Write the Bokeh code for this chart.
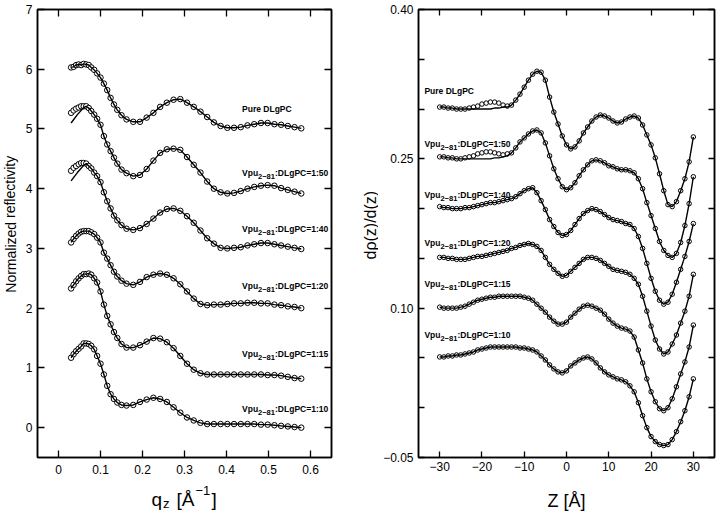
from bokeh.plotting import figure
from bokeh.models import FixedTicker, LinearAxis, Range1d
from bokeh.layouts import row, column
from bokeh.core.properties import value
from bokeh.embed import file_html
from bokeh.resources import INLINE

FONT = "Liberation Sans"

# ---------------- left panel: normalized reflectivity vs q_z ----------------
Q = [0.030, 0.036, 0.042, 0.048, 0.054, 0.060, 0.066, 0.072, 0.078, 0.085, 0.092, 0.100,
     0.108, 0.116, 0.124, 0.132, 0.140, 0.150, 0.162, 0.178, 0.194, 0.210, 0.226, 0.242,
     0.258, 0.274, 0.290, 0.306, 0.322, 0.338, 0.354, 0.370, 0.386, 0.402, 0.418, 0.434,
     0.450, 0.466, 0.482, 0.498, 0.514, 0.530, 0.546, 0.562, 0.578]

R_PURE = [6.03, 6.04, 6.07, 6.08, 6.07, 6.09, 6.08, 6.07, 6.03, 5.99, 5.93, 5.86,
          5.76, 5.65, 5.52, 5.41, 5.32, 5.23, 5.16, 5.12, 5.12, 5.19, 5.27, 5.37,
          5.44, 5.49, 5.50, 5.44, 5.37, 5.29, 5.20, 5.11, 5.05, 5.02, 5.02, 5.03,
          5.06, 5.08, 5.10, 5.10, 5.08, 5.07, 5.05, 5.03, 5.01]
R_150 = [5.27, 5.31, 5.34, 5.36, 5.38, 5.38, 5.38, 5.35, 5.30, 5.24, 5.17, 5.07,
         4.88, 4.74, 4.63, 4.52, 4.42, 4.32, 4.26, 4.21, 4.23, 4.33, 4.47, 4.60,
         4.66, 4.67, 4.65, 4.53, 4.40, 4.27, 4.12, 4.00, 3.94, 3.92, 3.93, 3.96,
         4.00, 4.03, 4.05, 4.06, 4.05, 4.01, 3.98, 3.95, 3.92]
R_140 = [4.30, 4.35, 4.38, 4.41, 4.43, 4.43, 4.42, 4.38, 4.34, 4.27, 4.21, 4.11,
         3.94, 3.79, 3.67, 3.55, 3.47, 3.39, 3.33, 3.31, 3.34, 3.41, 3.50, 3.60,
         3.66, 3.67, 3.63, 3.54, 3.43, 3.30, 3.17, 3.08, 3.01, 3.00, 3.01, 3.02,
         3.05, 3.07, 3.09, 3.09, 3.07, 3.05, 3.03, 3.01, 2.99]
R_120 = [3.10, 3.16, 3.21, 3.25, 3.28, 3.29, 3.29, 3.29, 3.27, 3.24, 3.18, 3.10,
         2.93, 2.83, 2.72, 2.61, 2.53, 2.46, 2.41, 2.39, 2.44, 2.52, 2.56, 2.58,
         2.56, 2.50, 2.40, 2.28, 2.16, 2.07, 2.05, 2.06, 2.06, 2.07, 2.08, 2.08,
         2.09, 2.09, 2.08, 2.08, 2.06, 2.05, 2.03, 2.02, 2.00]
R_115 = [2.33, 2.39, 2.45, 2.50, 2.54, 2.57, 2.57, 2.58, 2.56, 2.50, 2.43, 2.28,
         2.06, 1.87, 1.73, 1.60, 1.50, 1.40, 1.34, 1.34, 1.38, 1.44, 1.50, 1.49,
         1.43, 1.33, 1.20, 1.07, 0.97, 0.91, 0.89, 0.89, 0.89, 0.89, 0.89, 0.89,
         0.89, 0.89, 0.89, 0.88, 0.88, 0.87, 0.85, 0.83, 0.82]
R_110 = [1.17, 1.23, 1.28, 1.32, 1.36, 1.41, 1.41, 1.40, 1.37, 1.31, 1.20, 1.07,
         0.89, 0.70, 0.56, 0.48, 0.42, 0.38, 0.37, 0.38, 0.43, 0.47, 0.50, 0.48,
         0.43, 0.34, 0.25, 0.17, 0.12, 0.08, 0.06, 0.06, 0.06, 0.06, 0.06, 0.06,
         0.06, 0.06, 0.05, 0.05, 0.04, 0.03, 0.02, 0.01, 0.00]

# fitted curves deviate from the data at the lowest q for 1:50 and 1:40
FIT_LOW_Q = [0.030, 0.045, 0.060]
FIT_LOW_150 = [5.10, 5.24, 5.36]
FIT_LOW_140 = [4.13, 4.27, 4.39]
FIT_JOIN = 6  # fitted curve follows the data from Q[6] on

LEFT_CURVES = [R_PURE, R_150, R_140, R_120, R_115, R_110]
LEFT_FIT_LOW = [None, FIT_LOW_150, FIT_LOW_140, None, None, None]
LEFT_LABEL_Q = 0.437
LEFT_LABEL_R = [5.38, 4.32, 3.37, 2.42, 1.28, 0.355]

# ---------------- right panel: d rho / dz vs Z ----------------
Z = [-30, -29, -28, -27, -26, -25, -24, -23, -22, -21, -20, -19, -18, -17, -16, -15,
     -14, -13, -12, -11, -10, -9, -8, -7, -6, -5, -4, -3, -2, -1, 0, 1, 2, 3, 4, 5,
     6, 7, 8, 9, 10, 11, 12, 13, 14, 15, 16, 17, 18, 19, 20, 21, 22, 23, 24, 25, 26,
     27, 28, 29, 30]

D_PURE = [0.302, 0.302, 0.301, 0.301, 0.300, 0.300, 0.300, 0.301, 0.302, 0.303, 0.305,
          0.306, 0.307, 0.307, 0.306, 0.304, 0.303, 0.304, 0.309, 0.315, 0.322, 0.329,
          0.335, 0.338, 0.337, 0.329, 0.312, 0.297, 0.285, 0.273, 0.264, 0.260, 0.262,
          0.268, 0.276, 0.282, 0.288, 0.292, 0.294, 0.293, 0.291, 0.288, 0.286, 0.287,
          0.290, 0.292, 0.293, 0.291, 0.284, 0.274, 0.264, 0.251, 0.235, 0.218, 0.204,
          0.202, 0.207, 0.218, 0.230, 0.247, 0.272]
D_150 = [0.252, 0.252, 0.251, 0.251, 0.250, 0.250, 0.251, 0.252, 0.253, 0.255, 0.256,
         0.257, 0.257, 0.256, 0.255, 0.254, 0.255, 0.256, 0.261, 0.267, 0.271, 0.275,
         0.278, 0.279, 0.276, 0.266, 0.253, 0.240, 0.230, 0.222, 0.219, 0.221, 0.226,
         0.233, 0.239, 0.244, 0.248, 0.249, 0.248, 0.246, 0.243, 0.242, 0.240, 0.239,
         0.239, 0.238, 0.236, 0.230, 0.220, 0.206, 0.193, 0.180, 0.167, 0.158, 0.153,
         0.151, 0.155, 0.166, 0.183, 0.205, 0.232]
D_140 = [0.202, 0.201, 0.201, 0.200, 0.200, 0.200, 0.201, 0.201, 0.202, 0.203, 0.204,
         0.205, 0.206, 0.206, 0.207, 0.208, 0.209, 0.210, 0.212, 0.215, 0.218, 0.220,
         0.221, 0.216, 0.208, 0.199, 0.189, 0.182, 0.176, 0.173, 0.174, 0.178, 0.184,
         0.190, 0.195, 0.198, 0.200, 0.199, 0.197, 0.194, 0.191, 0.189, 0.188, 0.187,
         0.185, 0.184, 0.180, 0.172, 0.160, 0.145, 0.130, 0.117, 0.108, 0.104, 0.106,
         0.114, 0.126, 0.139, 0.152, 0.167, 0.185]
D_120 = [0.151, 0.151, 0.150, 0.150, 0.149, 0.149, 0.149, 0.150, 0.151, 0.152, 0.152,
         0.153, 0.154, 0.155, 0.156, 0.157, 0.158, 0.160, 0.161, 0.163, 0.164, 0.165,
         0.164, 0.162, 0.158, 0.151, 0.144, 0.139, 0.135, 0.132, 0.133, 0.137, 0.141,
         0.145, 0.149, 0.151, 0.151, 0.150, 0.148, 0.145, 0.142, 0.139, 0.138, 0.137,
         0.136, 0.134, 0.130, 0.124, 0.112, 0.097, 0.082, 0.068, 0.059, 0.054, 0.056,
         0.064, 0.073, 0.085, 0.097, 0.112, 0.134]
D_115 = [0.101, 0.100, 0.100, 0.100, 0.100, 0.101, 0.102, 0.104, 0.106, 0.108, 0.109,
         0.110, 0.111, 0.111, 0.112, 0.112, 0.112, 0.112, 0.112, 0.112, 0.111, 0.110,
         0.108, 0.104, 0.100, 0.096, 0.091, 0.087, 0.084, 0.084, 0.086, 0.091, 0.095,
         0.099, 0.102, 0.103, 0.102, 0.100, 0.098, 0.094, 0.089, 0.085, 0.082, 0.080,
         0.079, 0.077, 0.071, 0.058, 0.045, 0.029, 0.016, 0.006, -0.001, -0.003, 0.000,
         0.009, 0.021, 0.034, 0.046, 0.061, 0.083]
D_110 = [0.051, 0.051, 0.052, 0.052, 0.053, 0.053, 0.054, 0.055, 0.056, 0.058, 0.059,
         0.060, 0.061, 0.061, 0.061, 0.061, 0.061, 0.061, 0.061, 0.060, 0.060, 0.059,
         0.058, 0.056, 0.052, 0.048, 0.043, 0.039, 0.036, 0.035, 0.037, 0.042, 0.045,
         0.048, 0.050, 0.051, 0.049, 0.045, 0.040, 0.036, 0.033, 0.031, 0.029, 0.028,
         0.026, 0.022, 0.016, 0.005, -0.008, -0.020, -0.029, -0.034, -0.037, -0.038,
         -0.037, -0.032, -0.024, -0.014, -0.003, 0.011, 0.029]

# fitted curves run below the data bump for Z = -30 .. -14 (Pure, 1:50)
FIT_LOW_PURE = [0.302, 0.302, 0.301, 0.301, 0.300, 0.300, 0.300, 0.300, 0.300, 0.300,
                0.300, 0.300, 0.300, 0.301, 0.301, 0.302, 0.302]
FIT_LOW_D150 = [0.252, 0.252, 0.251, 0.251, 0.250, 0.250, 0.250, 0.250, 0.250, 0.250,
                0.250, 0.250, 0.250, 0.251, 0.251, 0.252, 0.253]

RIGHT_CURVES = [D_PURE, D_150, D_140, D_120, D_115, D_110]
RIGHT_FIT_LOW = [FIT_LOW_PURE, FIT_LOW_D150, None, None, None, None]
RIGHT_LABEL_Z = -33.6
RIGHT_LABEL_V = [0.3215, 0.268, 0.217, 0.168, 0.1275, 0.076]

RATIOS = ["1:50", "1:40", "1:20", "1:15", "1:10"]

X_TICKS_L = [0, 0.1, 0.2, 0.3, 0.4, 0.5, 0.6]
Y_TICKS_L = [0, 1, 2, 3, 4, 5, 6, 7]
X_TICKS_R = [-30, -20, -10, 0, 10, 20, 30]
X_LABELS_R = {-30: "\u221230", -20: "\u221220", -10: "\u221210"}
Y_TICKS_R = [-0.05, 0.10, 0.25, 0.40]
Y_MINOR_R = [0.0, 0.05, 0.15, 0.20, 0.30, 0.35]
Y_LABELS_R = {-0.05: "\u22120.05", 0.1: "0.10", 0.25: "0.25", 0.4: "0.40"}

X_RANGE_L = (-0.05, 0.65)
Y_RANGE_L = (-0.5, 7)
X_RANGE_R = (-35, 35)
Y_RANGE_R = (-0.05, 0.40)

# page geometry (pixels)
ROW_H = 480
STRIP_H = 32
YL_W, PL_W, YR_W, PR_W = 20, 340, 18, 342
PL_BORDERS = dict(min_border_left=17, min_border_right=29, min_border_top=7, min_border_bottom=23)
PR_BORDERS = dict(min_border_left=40, min_border_right=6, min_border_top=9, min_border_bottom=18)


def style_axis(ax, ticker, overrides, tick_len, standoff=5, show_labels=True):
    ax.ticker = ticker
    ax.major_tick_in = tick_len
    ax.major_tick_out = 0
    ax.minor_tick_in = tick_len
    ax.minor_tick_out = 0
    ax.axis_line_color = "black"
    ax.axis_line_width = 1.5
    ax.major_tick_line_width = 1.3
    ax.minor_tick_line_width = 1.3
    if show_labels:
        ax.major_label_text_font = FONT
        ax.major_label_text_font_size = "12px"
        ax.major_label_text_color = "black"
        ax.major_label_standoff = standoff
        if overrides:
            ax.major_label_overrides = overrides
    else:
        ax.major_label_text_font_size = "0px"
        ax.major_label_standoff = 0
        ax.major_label_overrides = {t: "" for t in ticker.ticks}


def make_fig(width, xr, yr, borders):
    p = figure(width=width, height=ROW_H, x_range=Range1d(*xr), y_range=Range1d(*yr),
               toolbar_location=None, output_backend="svg", **borders)
    p.xgrid.visible = False
    p.ygrid.visible = False
    p.outline_line_color = "black"
    p.outline_line_width = 1.5
    p.background_fill_color = "white"
    p.border_fill_color = "white"
    return p


def make_strip(width, height, xr, yr):
    s = figure(width=width, height=height, x_range=Range1d(*xr), y_range=Range1d(*yr),
               toolbar_location=None, output_backend="svg",
               x_axis_location=None, y_axis_location=None,
               min_border_left=0, min_border_right=0, min_border_top=0, min_border_bottom=0)
    s.xgrid.visible = False
    s.ygrid.visible = False
    s.outline_line_color = None
    s.background_fill_color = "white"
    s.border_fill_color = "white"
    return s


def add_mirror(p, xticker, yticker, tick_len):
    top = LinearAxis()
    style_axis(top, xticker, None, tick_len, show_labels=False)
    p.add_layout(top, "above")
    right = LinearAxis()
    style_axis(right, yticker, None, tick_len, show_labels=False)
    p.add_layout(right, "right")


def add_curve_label(p, x, y, ratio):
    common = dict(text_font=value(FONT), text_font_style="bold",
                  text_color="black", text_baseline="alphabetic", text_align="left")
    if ratio is None:
        p.text(x=[x], y=[y], text=["Pure DLgPC"], text_font_size="8.5px",
               y_offset=3, **common)
        return
    p.text(x=[x], y=[y], text=["Vpu"], text_font_size="8.5px", y_offset=3, **common)
    p.text(x=[x], y=[y], text=["2\u221281"], text_font_size="7.5px",
           x_offset=16, y_offset=6.5, **common)
    p.text(x=[x], y=[y], text=[":DLgPC=" + ratio], text_font_size="8.5px",
           x_offset=33, y_offset=3, **common)


# ---------------- left figure ----------------
pl = make_fig(PL_W, X_RANGE_L, Y_RANGE_L, PL_BORDERS)
style_axis(pl.xaxis[0], FixedTicker(ticks=X_TICKS_L), None, 7, standoff=7)
style_axis(pl.yaxis[0], FixedTicker(ticks=Y_TICKS_L), None, 7, standoff=5)
add_mirror(pl, FixedTicker(ticks=X_TICKS_L), FixedTicker(ticks=Y_TICKS_L), 7)

for i, r in enumerate(LEFT_CURVES):
    pl.scatter(Q, r, marker="circle", size=5.5, fill_color="white",
               line_color="black", line_width=1.0)
    low = LEFT_FIT_LOW[i]
    if low is None:
        fx, fy = Q, r
    else:
        fx = FIT_LOW_Q + Q[FIT_JOIN:]
        fy = low + r[FIT_JOIN:]
    pl.line(fx, fy, line_color="black", line_width=1.4)
    add_curve_label(pl, LEFT_LABEL_Q, LEFT_LABEL_R[i], None if i == 0 else RATIOS[i - 1])

# ---------------- right figure ----------------
pr = make_fig(PR_W, X_RANGE_R, Y_RANGE_R, PR_BORDERS)
style_axis(pr.xaxis[0], FixedTicker(ticks=X_TICKS_R), X_LABELS_R, 6, standoff=4)
style_axis(pr.yaxis[0], FixedTicker(ticks=Y_TICKS_R, minor_ticks=Y_MINOR_R), Y_LABELS_R, 6,
           standoff=5)
add_mirror(pr, FixedTicker(ticks=X_TICKS_R),
           FixedTicker(ticks=Y_TICKS_R, minor_ticks=Y_MINOR_R), 6)

for i, d in enumerate(RIGHT_CURVES):
    pr.scatter(Z, d, marker="circle", size=4.5, fill_color="white",
               line_color="black", line_width=1.0)
    low = RIGHT_FIT_LOW[i]
    fy = d if low is None else low + d[len(low):]
    pr.line(Z, fy, line_color="black", line_width=1.4)
    add_curve_label(pr, RIGHT_LABEL_Z, RIGHT_LABEL_V[i], None if i == 0 else RATIOS[i - 1])

# ---------------- axis titles (in strips beside / below the panels) ----------------
yl = make_strip(YL_W, ROW_H, (0, 1), (0, 1))
yl.text(x=[0.5], y=[0.5207], text=["Normalized reflectivity"], angle=1.5708,
        text_align="center", text_baseline="middle", text_font=value(FONT),
        text_font_size="14px", text_color="black")

yr = make_strip(YR_W, ROW_H, (0, 1), (0, 1))
yr.text(x=[0.556], y=[0.5186], text=["d\u03c1(z)/d(z)"], angle=1.5708,
        text_align="center", text_baseline="middle", text_font=value(FONT),
        text_font_size="16px", text_color="black")

# bottom strips share the panels' horizontal data scale
px_per_q = (PL_W - PL_BORDERS["min_border_left"] - PL_BORDERS["min_border_right"]) / (X_RANGE_L[1] - X_RANGE_L[0])
xl_left = X_RANGE_L[0] - (YL_W + PL_BORDERS["min_border_left"]) / px_per_q
xl_right = xl_left + (YL_W + PL_W) / px_per_q
xl = make_strip(YL_W + PL_W, STRIP_H, (xl_left, xl_right), (0, 1))
q_title = [("q", 0.2214, 0.40, "19px"), ("z", 0.2488, 0.27, "13px"),
           ("[\u00c5", 0.2810, 0.40, "19px"), ("\u22121", 0.3262, 0.70, "13px"),
           ("]", 0.3643, 0.40, "19px")]
for txt, xq, yq, size in q_title:
    xl.text(x=[xq], y=[yq], text=[txt], text_align="left", text_baseline="alphabetic",
            text_font=value(FONT), text_font_size=size, text_color="black")

px_per_z = (PR_W - PR_BORDERS["min_border_left"] - PR_BORDERS["min_border_right"]) / (X_RANGE_R[1] - X_RANGE_R[0])
xr_left = X_RANGE_R[0] - (YR_W + PR_BORDERS["min_border_left"]) / px_per_z
xr_right = xr_left + (YR_W + PR_W) / px_per_z
xr = make_strip(YR_W + PR_W, STRIP_H, (xr_left, xr_right), (0, 1))
xr.text(x=[0.0], y=[0.36], text=["Z [\u00c5]"], text_align="center",
        text_baseline="alphabetic", text_font=value(FONT), text_font_size="18px",
        text_color="black")

layout = column(row(yl, pl, yr, pr), row(xl, xr))
open("out.html", "w").write(file_html(layout, INLINE))
